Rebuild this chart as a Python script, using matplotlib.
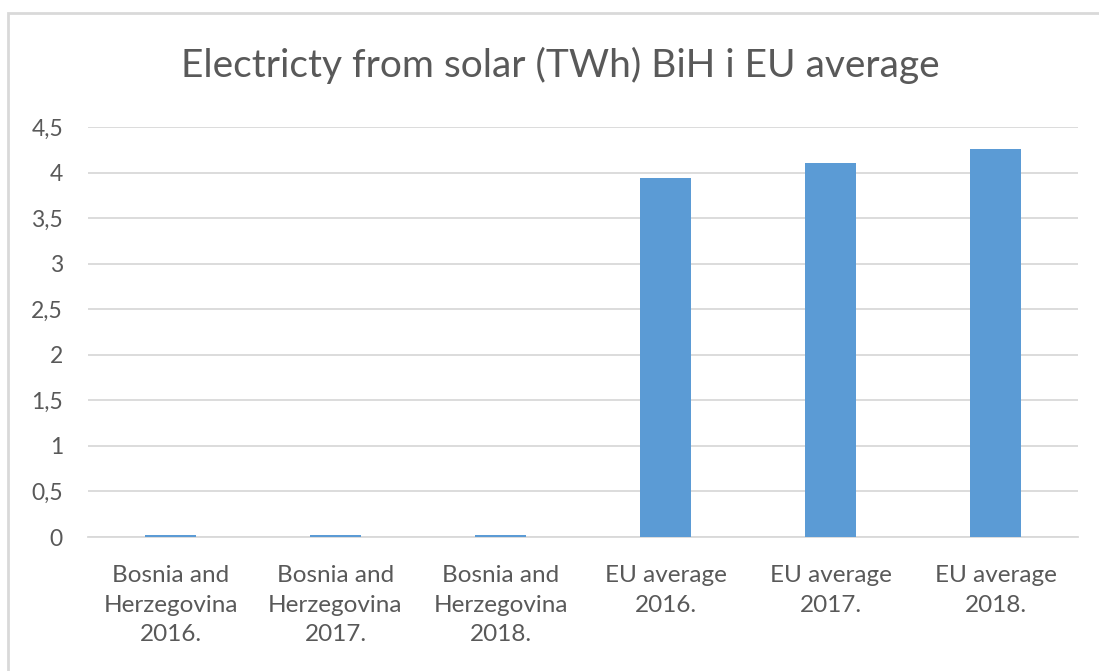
import matplotlib.pyplot as plt
from matplotlib.patches import Rectangle
from matplotlib.ticker import FuncFormatter
import numpy as np

categories = ["Bosnia and\nHerzegovina\n2016.", "Bosnia and\nHerzegovina\n2017.",
              "Bosnia and\nHerzegovina\n2018.", "EU average\n2016.",
              "EU average\n2017.", "EU average\n2018."]
values = [0.02, 0.02, 0.02, 3.94, 4.10, 4.26]

plt.rcParams['font.family'] = ['Lato', 'DejaVu Sans']
text_color = "#595959"
grid_color = "#D9D9D9"

fig = plt.figure(figsize=(10.99, 6.71), dpi=100)
ax = fig.add_axes([88 / 1099, 1 - 537 / 671, 990 / 1099, 410 / 671])

x = np.arange(len(categories))
ax.bar(x, values, width=0.31, color="#5B9BD5", zorder=3)

ax.set_xlim(-0.5, len(categories) - 0.5)
ax.set_ylim(0, 4.5)
ax.set_yticks(np.arange(0, 4.51, 0.5))
ax.yaxis.set_major_formatter(FuncFormatter(lambda v, p: f"{v:g}".replace(".", ",")))
ax.set_xticks(x)
ax.set_xticklabels(categories, linespacing=1.52)

ax.grid(axis="y", color=grid_color, linewidth=1.3, zorder=0)
for s in ["top", "right", "left"]:
    ax.spines[s].set_visible(False)
ax.spines["bottom"].set_color(grid_color)
ax.spines["bottom"].set_linewidth(1.3)
ax.tick_params(axis="both", length=0, colors=text_color)
ax.tick_params(axis="y", pad=18, labelsize=16.5)
ax.tick_params(axis="x", pad=20, labelsize=17.5)

fig.text(0.51, 1 - 65 / 671, "Electricty from solar (TWh) BiH i EU average",
         ha="center", va="center", fontsize=28, color=text_color)

# chart frame
fig.patches.append(Rectangle((8 / 1099, -0.1), 1.2, 1 - 13 / 671 + 0.1,
                             transform=fig.transFigure, fill=False,
                             edgecolor=grid_color, linewidth=2))

fig.savefig("out.png", dpi=100)
